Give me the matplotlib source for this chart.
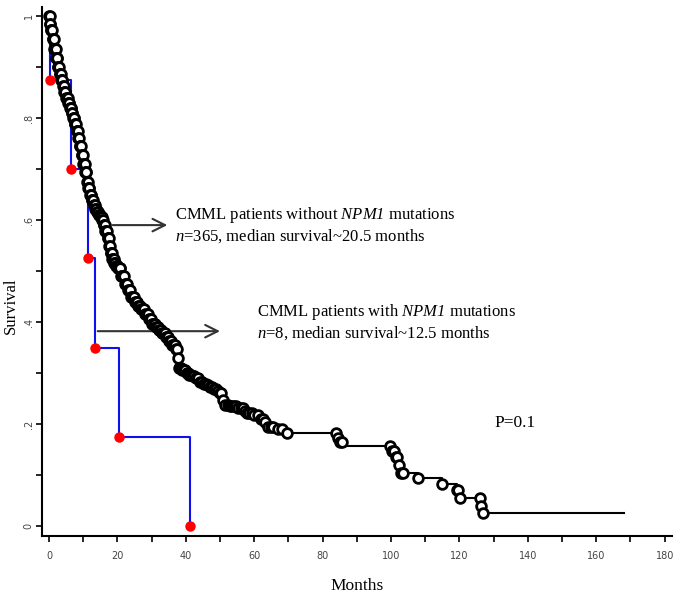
import matplotlib.pyplot as plt
import numpy as np

plt.rcParams['mathtext.fontset'] = 'custom'
plt.rcParams['mathtext.rm'] = 'Liberation Serif'
plt.rcParams['mathtext.it'] = 'Liberation Serif:italic'
plt.rcParams['mathtext.sf'] = 'Liberation Serif:italic'

# CMML without NPM1 mutations (n=365): KM step points (months, survival)
wt_time = [0, 0.3, 0.6, 1.0, 1.5, 2.0, 2.5, 3.0, 3.5, 4.0, 4.5, 5.0, 5.5, 6.0, 6.5,
           7.0, 7.5, 8.0, 8.5, 9.0, 9.5, 10.0, 10.5, 11.0, 11.5, 12.0, 12.5, 13.0,
           13.5, 14.0, 14.5, 15.0, 15.5, 16.0, 16.5, 17.0, 17.5, 18.0, 18.5, 19.0,
           19.5, 20.0, 21, 22, 23, 24, 25, 26, 27, 28, 29, 30, 31, 32, 33, 34, 35,
           36, 37, 37.7, 38, 39, 40, 41, 42, 43, 44, 45, 46, 47, 48, 49, 50, 51,
           51.5, 53, 55, 57, 58, 60, 62, 63, 63.6, 66, 69.4, 84.5, 85, 86, 100,
           101, 102, 103, 108, 115, 119.2, 120.2, 126.2, 126.8, 168.2]
wt_surv = [1.0, 0.985, 0.972, 0.955, 0.935, 0.917, 0.900, 0.886, 0.874, 0.862, 0.851,
           0.840, 0.830, 0.820, 0.810, 0.800, 0.788, 0.775, 0.760, 0.745, 0.728, 0.710,
           0.695, 0.675, 0.662, 0.650, 0.640, 0.630, 0.622, 0.615, 0.610, 0.605, 0.600,
           0.590, 0.578, 0.565, 0.550, 0.535, 0.524, 0.515, 0.510, 0.505, 0.490, 0.475,
           0.462, 0.450, 0.440, 0.432, 0.425, 0.415, 0.405, 0.397, 0.390, 0.385, 0.378,
           0.370, 0.362, 0.355, 0.347, 0.330, 0.310, 0.305, 0.300, 0.297, 0.294, 0.290,
           0.283, 0.279, 0.276, 0.272, 0.268, 0.265, 0.260, 0.248, 0.238, 0.236, 0.232,
           0.226, 0.222, 0.217, 0.210, 0.203, 0.195, 0.190, 0.183, 0.172, 0.165, 0.157,
           0.148, 0.135, 0.120, 0.104, 0.094, 0.083, 0.070, 0.055, 0.040, 0.026, 0.026]

# censored observations (months)
wt_censor = [0.1, 0.2, 0.3, 0.4, 0.6, 0.7, 0.9, 1.1, 1.2, 1.4, 1.5, 1.7, 1.9, 2.0, 2.2,
             2.4, 2.5, 2.7, 2.9, 3.1, 3.2, 3.4, 3.6, 3.8, 3.9, 4.1, 4.3, 4.5, 4.6, 4.8,
             5.0, 5.2, 5.4, 5.5, 5.7, 5.9, 6.1, 6.3, 6.4, 6.6, 6.8, 7.0, 7.2, 7.3, 7.5,
             7.7, 7.9, 8.1, 8.2, 8.4, 8.6, 8.8, 9.0, 9.1, 9.3, 9.5, 9.7, 9.9, 10.0, 10.2,
             10.4, 10.6, 10.8, 10.9, 11.1, 11.3, 11.5, 11.7, 11.8, 12.0, 12.2, 12.4, 12.6,
             12.7, 12.9, 13.1, 13.3, 13.5, 13.6, 13.8, 14.0, 14.2, 14.4, 14.5, 14.7, 14.9,
             15.1, 15.3, 15.4, 15.6, 15.8, 16.0, 16.2, 16.3, 16.5, 16.7, 16.9, 17.1, 17.2,
             17.4, 17.6, 17.8, 18.0, 18.1, 18.3, 18.5, 18.7, 18.9, 19.0, 19.2, 19.4, 19.6,
             19.8, 19.9, 20.1, 20.3, 20.5, 20.7, 20.8, 21.0, 21.3, 21.6, 21.9, 22.2, 22.5,
             22.8, 23.1, 23.4, 23.7, 24.0, 24.3, 24.6, 24.9, 25.2, 25.5, 25.8, 26.1, 26.4,
             26.7, 27.0, 27.3, 27.6, 27.9, 28.2, 28.5, 28.8, 29.1, 29.4, 29.7, 30.0, 30.3,
             30.6, 30.9, 31.2, 31.5, 31.8, 32.1, 32.4, 32.7, 33.0, 33.3, 33.6, 33.9, 34.2,
             34.5, 34.8, 35.1, 35.4, 35.7, 36.0, 36.3, 36.6, 36.9, 37.2, 37.5, 37.8, 38.1,
             38.4, 38.7, 39.0, 39.4, 39.8, 40.2, 40.6, 41.0, 41.5, 42.0, 42.5, 43.0, 43.5,
             44.0, 44.6, 45.2, 45.8, 46.4, 47.0, 47.5, 48.3, 48.9, 49.5, 50.0, 50.4, 51.0,
             51.5, 52.2, 53.0, 53.6, 54.0, 54.8, 55.3, 56.0, 56.6, 57.2, 58.0, 58.5, 59.2,
             60.0, 61.2, 62.0, 62.6, 63.2, 64.0, 64.8, 65.5, 67.0, 68.0, 69.5, 84.0, 84.6,
             85.2, 85.8, 99.6, 100.2, 100.8, 101.3, 101.8, 102.4, 103.0, 103.6, 108.0,
             115.0, 119.2, 119.7, 120.3, 125.9, 126.4, 127.0]

# CMML with NPM1 mutations (n=8)
mut_time = [0, 0.3, 6.5, 11.4, 13.4, 20.4, 41.2]
mut_surv = [1.0, 0.875, 0.70, 0.525, 0.35, 0.175, 0.0]

wt_time = np.array(wt_time)
wt_surv = np.array(wt_surv)
idx = np.searchsorted(wt_time, wt_censor, side='right') - 1
censor_surv = wt_surv[idx]

fig = plt.figure(figsize=(6.8, 5.97), dpi=100)
ax = fig.add_axes([0.0618, 0.1022, 0.926, 0.886])

ax.plot(mut_time, mut_surv, drawstyle='steps-post', color='#1010ee', linewidth=1.5, zorder=2)
ax.plot(wt_time, wt_surv, drawstyle='steps-post', color='black', linewidth=1.5, zorder=3)
ax.plot(wt_censor, censor_surv, linestyle='none', marker='o', markersize=7,
        markerfacecolor='white', markeredgecolor='black', markeredgewidth=2.0, zorder=4)
ax.plot(mut_time[1:], mut_surv[1:], linestyle='none', marker='o', markersize=6.5,
        color='red', zorder=5)

# annotations
ax.annotate('', xy=(35.4, 0.590), xytext=(17.8, 0.590),
            arrowprops=dict(arrowstyle='->,head_length=0.9,head_width=0.45',
                            color='#333333', linewidth=1.5))
ax.annotate('', xy=(50.8, 0.382), xytext=(13.4, 0.382),
            arrowprops=dict(arrowstyle='->,head_length=0.9,head_width=0.45',
                            color='#333333', linewidth=1.5))
ax.text(36.8, 0.590, 'CMML patients without $\\mathsf{NPM1}$ mutations\n'
        '$\\mathit{n}$=365, median survival~20.5 months',
        family='Liberation Serif', fontsize=12, va='center', ha='left')
ax.text(60.8, 0.400, 'CMML patients with $\\mathsf{NPM1}$ mutations\n'
        '$\\mathit{n}$=8, median survival~12.5 months',
        family='Liberation Serif', fontsize=12, va='center', ha='left')
ax.text(136.2, 0.202, 'P=0.1', family='Liberation Serif', fontsize=12.5,
        va='center', ha='center')

ax.set_xlim(-2.05, 182.05)
ax.set_ylim(-0.0196, 1.0176)
ax.set_xticks(np.arange(0, 181, 20))
ax.set_xticks(np.arange(10, 180, 20), minor=True)
ax.set_yticks([0, 0.2, 0.4, 0.6, 0.8, 1.0])
ax.set_yticklabels(['0', '.2', '.4', '.6', '.8', '1'])
ax.set_yticks([0.1, 0.3, 0.5, 0.7, 0.9], minor=True)
ax.tick_params(which='both', direction='out', length=4, width=1.2, color='black')
ax.tick_params(axis='x', labelsize=7, labelcolor='#444444', pad=7)
ax.tick_params(axis='y', labelsize=7, labelcolor='#444444', pad=2, labelrotation=90)
for lbl in ax.get_yticklabels():
    lbl.set_va('center')

ax.spines['top'].set_visible(False)
ax.spines['right'].set_visible(False)
ax.spines['left'].set_linewidth(1.5)
ax.spines['bottom'].set_linewidth(1.5)

ax.set_xlabel('Months', family='Liberation Serif', fontsize=12.5, labelpad=12)
ax.set_ylabel('Survival', family='Liberation Serif', fontsize=12)
ax.yaxis.set_label_coords(-0.037, 0.435)

plt.savefig('out.png', dpi=100)
